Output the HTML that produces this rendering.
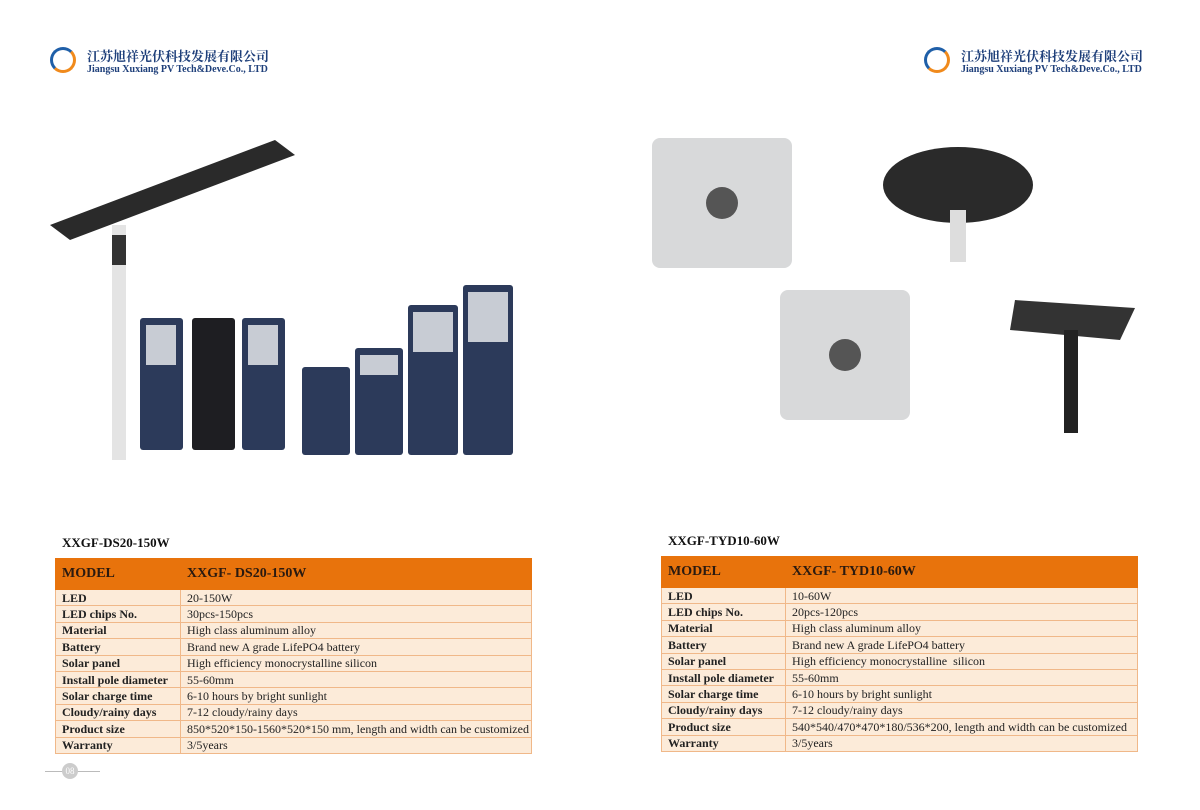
<!DOCTYPE html>
<html><head><meta charset="utf-8"><style>
body{margin:0;width:1200px;height:810px;background:#fff;position:relative;overflow:hidden;font-family:"Liberation Serif",serif}
.a{position:absolute}
.logo{position:absolute;width:26px;height:26px;border-radius:50%;border:3px solid #1f5fa8;border-right-color:#f08a1c;border-bottom-color:#f08a1c;box-sizing:border-box}
.cn{position:absolute;font-family:"Liberation Serif","Noto Serif CJK SC",serif;font-size:13px;font-weight:bold;color:#1e3f7a;letter-spacing:0px;white-space:nowrap}
.en{position:absolute;font-size:10px;font-weight:bold;color:#1e3f7a;white-space:nowrap}
table{position:absolute;border-collapse:collapse;font-size:12px;color:#222}
td{border:1px solid #f0b889;background:#fcebd9;height:15.4px;padding:0 0 0 6px;line-height:14px;white-space:nowrap}
td.k{font-weight:bold}
tr.h td{background:#e8730c;height:30px;font-size:14px;font-weight:bold;color:#2a1a10;border-color:#e8730c}
.title{position:absolute;font-size:13px;font-weight:bold;color:#111}
</style></head><body>
<div class="logo" style="left:50px;top:47px"></div>
<div class="cn" style="left:87px;top:46px">江苏旭祥光伏科技发展有限公司</div>
<div class="en" style="left:87px;top:64px">Jiangsu Xuxiang PV Tech&amp;Deve.Co., LTD</div>
<div class="logo" style="left:924px;top:47px"></div>
<div class="cn" style="left:961px;top:46px">江苏旭祥光伏科技发展有限公司</div>
<div class="en" style="left:961px;top:64px">Jiangsu Xuxiang PV Tech&amp;Deve.Co., LTD</div>

<svg class="a" style="left:40px;top:130px" width="500" height="340">
<polygon points="10,95 235,10 255,25 30,110" fill="#2a2a2a"/>
<rect x="72" y="95" width="14" height="235" fill="#e4e4e4"/>
<rect x="72" y="105" width="14" height="30" fill="#333"/>
<rect x="100" y="188" width="43" height="132" rx="3" fill="#2c3a5a"/>
<rect x="106" y="195" width="30" height="40" fill="#c8ccd4"/>
<rect x="152" y="188" width="43" height="132" rx="3" fill="#1e1e22"/>
<rect x="202" y="188" width="43" height="132" rx="3" fill="#2c3a5a"/>
<rect x="208" y="195" width="30" height="40" fill="#c8ccd4"/>
<rect x="262" y="237" width="48" height="88" rx="3" fill="#2c3a5a"/>
<rect x="315" y="218" width="48" height="107" rx="3" fill="#2c3a5a"/>
<rect x="320" y="225" width="38" height="20" fill="#c8ccd4"/>
<rect x="368" y="175" width="50" height="150" rx="3" fill="#2c3a5a"/>
<rect x="373" y="182" width="40" height="40" fill="#c8ccd4"/>
<rect x="423" y="155" width="50" height="170" rx="3" fill="#2c3a5a"/>
<rect x="428" y="162" width="40" height="50" fill="#c8ccd4"/>
</svg>
<svg class="a" style="left:640px;top:130px" width="530" height="310">
<rect x="12" y="8" width="140" height="130" rx="8" fill="#d8d9da"/>
<circle cx="82" cy="73" r="16" fill="#555"/>
<rect x="140" y="160" width="130" height="130" rx="8" fill="#d8d9da"/>
<circle cx="205" cy="225" r="16" fill="#555"/>
<ellipse cx="318" cy="55" rx="75" ry="38" fill="#2a2a2a"/>
<rect x="310" y="80" width="16" height="52" fill="#ddd"/>
<polygon points="375,170 495,178 480,210 370,200" fill="#333"/>
<rect x="424" y="200" width="14" height="103" fill="#222"/>
</svg>

<div class="title" style="left:62px;top:535px">XXGF-DS20-150W</div>
<table style="left:55px;top:558px;width:477px">
<tr class="h"><td style="width:118px">MODEL</td><td>XXGF- DS20-150W</td></tr>
<tr><td class="k">LED</td><td>20-150W</td></tr>
<tr><td class="k">LED chips No.</td><td>30pcs-150pcs</td></tr>
<tr><td class="k">Material</td><td>High class aluminum alloy</td></tr>
<tr><td class="k">Battery</td><td>Brand new A grade LifePO4 battery</td></tr>
<tr><td class="k">Solar panel</td><td>High efficiency monocrystalline silicon</td></tr>
<tr><td class="k">Install pole diameter</td><td>55-60mm</td></tr>
<tr><td class="k">Solar charge time</td><td>6-10 hours by bright sunlight</td></tr>
<tr><td class="k">Cloudy/rainy days</td><td>7-12 cloudy/rainy days</td></tr>
<tr><td class="k">Product size</td><td>850*520*150-1560*520*150 mm, length and width can be customized</td></tr>
<tr><td class="k">Warranty</td><td>3/5years</td></tr>
</table>

<div class="title" style="left:668px;top:533px">XXGF-TYD10-60W</div>
<table style="left:661px;top:556px;width:477px">
<tr class="h"><td style="width:117px">MODEL</td><td>XXGF- TYD10-60W</td></tr>
<tr><td class="k">LED</td><td>10-60W</td></tr>
<tr><td class="k">LED chips No.</td><td>20pcs-120pcs</td></tr>
<tr><td class="k">Material</td><td>High class aluminum alloy</td></tr>
<tr><td class="k">Battery</td><td>Brand new A grade LifePO4 battery</td></tr>
<tr><td class="k">Solar panel</td><td>High efficiency monocrystalline &nbsp;silicon</td></tr>
<tr><td class="k">Install pole diameter</td><td>55-60mm</td></tr>
<tr><td class="k">Solar charge time</td><td>6-10 hours by bright sunlight</td></tr>
<tr><td class="k">Cloudy/rainy days</td><td>7-12 cloudy/rainy days</td></tr>
<tr><td class="k">Product size</td><td>540*540/470*470*180/536*200, length and width can be customized</td></tr>
<tr><td class="k">Warranty</td><td>3/5years</td></tr>
</table>

<div class="a" style="left:45px;top:771px;width:55px;height:1px;background:#bbb"></div>
<div class="a" style="left:62px;top:763px;width:16px;height:16px;border-radius:50%;background:#ccc;color:#fff;font-size:9px;text-align:center;line-height:16px">08</div>
</body></html>
